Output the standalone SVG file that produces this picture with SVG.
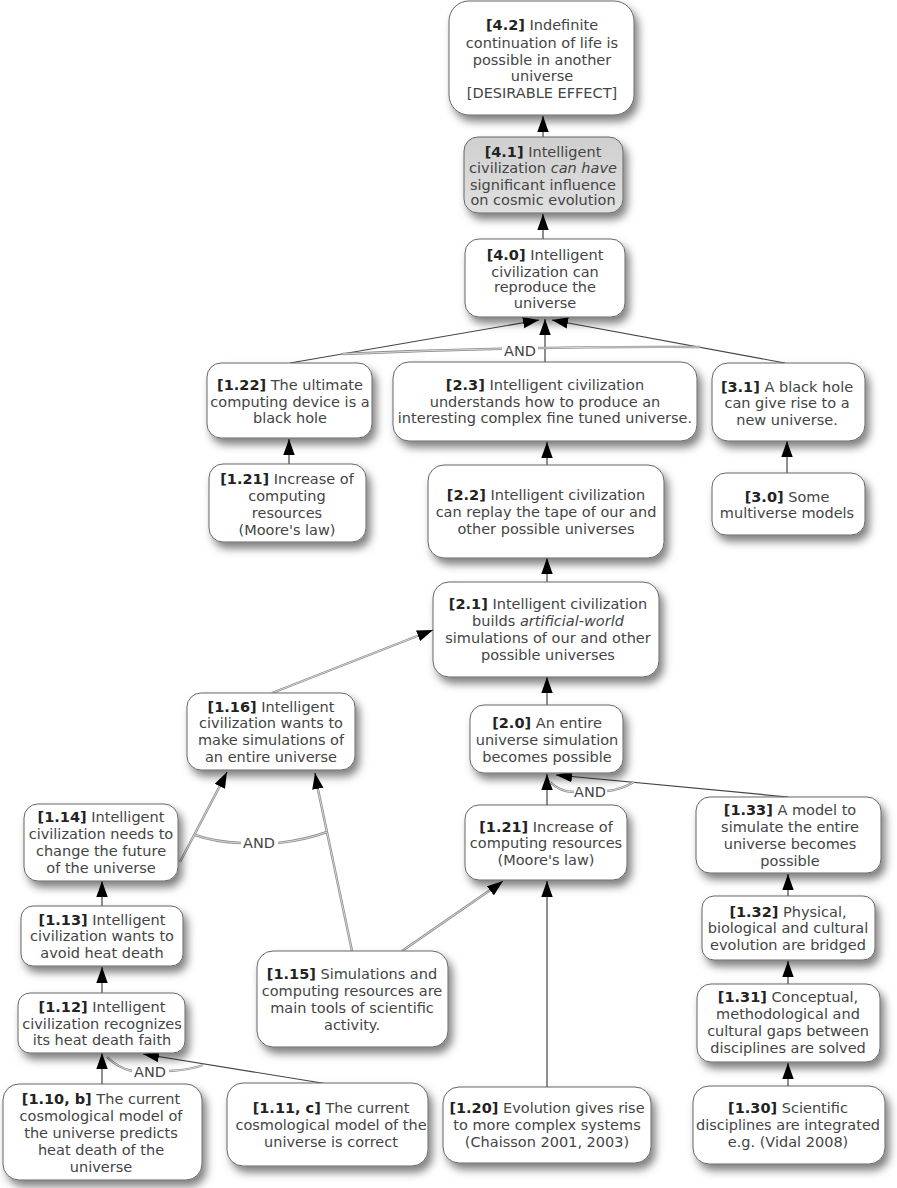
<svg xmlns="http://www.w3.org/2000/svg" width="897" height="1188" viewBox="0 0 897 1188">
<defs>
<filter id="sh" x="-20%" y="-20%" width="150%" height="170%">
<feDropShadow dx="4" dy="6" stdDeviation="4" flood-color="#000" flood-opacity="0.5"/>
</filter>
<linearGradient id="gr" x1="0" y1="0" x2="0" y2="1">
<stop offset="0" stop-color="#cfcfcf"/>
<stop offset="1" stop-color="#e0e0e0"/>
</linearGradient>
<marker id="ah" markerUnits="userSpaceOnUse" markerWidth="16" markerHeight="12" viewBox="0 0 14 10" refX="14" refY="5" orient="auto">
<path d="M0,0 L14,5 L0,10 z" fill="#000"/>
</marker>
<style>
.box{fill:#fff;stroke:#666;stroke-width:1;filter:url(#sh)}
.gray{fill:url(#gr)}
text{font-family:"DejaVu Sans","Verdana",sans-serif;font-size:14.5px;fill:#444;text-anchor:middle}
.b{font-weight:bold;fill:#222}
.i{font-style:italic}
.dk{fill:none;stroke:#444;stroke-width:1.2}
.lt{fill:none;stroke:#8a8a8a;stroke-width:2.4}
.lti{fill:none;stroke:#e8e8e8;stroke-width:0.8}
.and{fill:none;stroke:#8a8a8a;stroke-width:2.4}
.andi{fill:none;stroke:#eee;stroke-width:0.8}
.andt{fill:#444}
</style>
</defs>

<g id="connectors">
<line class="dk" x1="543" y1="137" x2="543" y2="116" marker-end="url(#ah)"/>
<line class="dk" x1="543" y1="239" x2="543" y2="214" marker-end="url(#ah)"/>
<line class="dk" x1="290" y1="363" x2="539" y2="320" stroke="#666" marker-end="url(#ah)"/>
<line class="dk" x1="545" y1="362" x2="545" y2="319" marker-end="url(#ah)"/>
<line class="dk" x1="785" y1="363" x2="552" y2="320" stroke="#666" marker-end="url(#ah)"/>
<path class="and" d="M343,354 Q520,346 700,347"/>
<path class="andi" d="M343,354 Q520,346 700,347"/>
<rect x="502" y="342" width="36" height="14" fill="#fff"/>
<text x="520" y="356" class="andt">AND</text>
<line class="dk" x1="289" y1="464" x2="289" y2="439" marker-end="url(#ah)"/>
<line class="dk" x1="547" y1="465" x2="547" y2="442" marker-end="url(#ah)"/>
<line class="dk" x1="787" y1="473" x2="787" y2="441" marker-end="url(#ah)"/>
<line class="dk" x1="547" y1="582" x2="547" y2="558" marker-end="url(#ah)"/>
<line class="lt" x1="272" y1="693" x2="425" y2="633"/>
<line class="lti" x1="272" y1="693" x2="425" y2="633"/>
<line x1="420" y1="635" x2="433" y2="630" stroke="#000" marker-end="url(#ah)"/>
<line class="dk" x1="547" y1="705" x2="547" y2="677" marker-end="url(#ah)"/>
<line class="dk" x1="547" y1="805" x2="547" y2="774" marker-end="url(#ah)"/>
<line class="dk" x1="788" y1="797" x2="556" y2="775" stroke="#666" marker-end="url(#ah)"/>
<path class="and" d="M550,782 Q560,792 574,792 M607,791 Q620,790 634,782"/>
<path class="andi" d="M550,782 Q560,792 574,792 M607,791 Q620,790 634,782"/>
<text x="590" y="797" class="andt">AND</text>
<line class="lt" x1="180" y1="862" x2="224" y2="778"/>
<line class="lti" x1="180" y1="862" x2="224" y2="778"/>
<line x1="222" y1="782" x2="227" y2="772" stroke="#000" marker-end="url(#ah)"/>
<line class="lt" x1="352" y1="951" x2="316" y2="780"/>
<line class="lti" x1="352" y1="951" x2="316" y2="780"/>
<line x1="317" y1="784" x2="315" y2="773" stroke="#000" marker-end="url(#ah)"/>
<path class="and" d="M195,835 Q215,842 241,843 M278,843 Q305,840 327,832"/>
<path class="andi" d="M195,835 Q215,842 241,843 M278,843 Q305,840 327,832"/>
<text x="259" y="848" class="andt">AND</text>
<line class="dk" x1="102" y1="906" x2="102" y2="881" marker-end="url(#ah)"/>
<line class="dk" x1="102" y1="993" x2="102" y2="967" marker-end="url(#ah)"/>
<line class="dk" x1="102" y1="1084" x2="102" y2="1053" marker-end="url(#ah)"/>
<line class="dk" x1="328" y1="1084" x2="143" y2="1054" stroke="#666" marker-end="url(#ah)"/>
<path class="and" d="M107,1057 Q118,1068 132,1071 M169,1071 Q190,1070 203,1065"/>
<path class="andi" d="M107,1057 Q118,1068 132,1071 M169,1071 Q190,1070 203,1065"/>
<text x="150" y="1077" class="andt">AND</text>
<line class="lt" x1="402" y1="951" x2="496" y2="886"/>
<line class="lti" x1="402" y1="951" x2="496" y2="886"/>
<line x1="494" y1="888" x2="503" y2="881" stroke="#000" marker-end="url(#ah)"/>
<line class="dk" x1="547" y1="1087" x2="547" y2="881" marker-end="url(#ah)"/>
<line class="dk" x1="788" y1="896" x2="788" y2="874" marker-end="url(#ah)"/>
<line class="dk" x1="788" y1="984" x2="788" y2="961" marker-end="url(#ah)"/>
<line class="dk" x1="788" y1="1086" x2="788" y2="1063" marker-end="url(#ah)"/>
</g>

<g id="n42"><rect class="box" x="449" y="1" width="185" height="114" rx="20"/>
<text x="542" y="30"><tspan class="b">[4.2]</tspan> Indefinite</text>
<text x="542" y="48">continuation of life is</text>
<text x="542" y="65">possible in another</text>
<text x="542" y="81">universe</text>
<text x="542" y="98">[DESIRABLE EFFECT]</text></g>

<g id="n41"><rect class="box gray" x="464" y="137" width="159" height="76" rx="14"/>
<text x="543" y="157"><tspan class="b">[4.1]</tspan> Intelligent</text>
<text x="543" y="173">civilization <tspan class="i">can have</tspan></text>
<text x="543" y="190">significant influence</text>
<text x="543" y="205">on cosmic evolution</text></g>

<g id="n40"><rect class="box" x="465" y="239" width="160" height="78" rx="14"/>
<text x="545" y="260"><tspan class="b">[4.0]</tspan> Intelligent</text>
<text x="545" y="277">civilization can</text>
<text x="545" y="292">reproduce the</text>
<text x="545" y="308">universe</text></g>

<g id="n122"><rect class="box" x="207" y="363" width="165" height="75" rx="14"/>
<text x="290" y="390"><tspan class="b">[1.22]</tspan> The ultimate</text>
<text x="290" y="407">computing device is a</text>
<text x="290" y="423">black hole</text></g>

<g id="n23"><rect class="box" x="393" y="362" width="304" height="79" rx="16"/>
<text x="545" y="390"><tspan class="b">[2.3]</tspan>  Intelligent civilization</text>
<text x="545" y="407">understands how to produce an</text>
<text x="545" y="423">interesting complex fine tuned universe.</text></g>

<g id="n31"><rect class="box" x="712" y="363" width="153" height="78" rx="16"/>
<text x="787" y="392"><tspan class="b">[3.1]</tspan> A black hole</text>
<text x="787" y="408">can give rise to a</text>
<text x="787" y="425">new universe.</text></g>

<g id="n121a"><rect class="box" x="209" y="464" width="157" height="78" rx="14"/>
<text x="287" y="484"><tspan class="b">[1.21]</tspan> Increase of</text>
<text x="287" y="501">computing</text>
<text x="287" y="518">resources</text>
<text x="287" y="535">(Moore's law)</text></g>

<g id="n22"><rect class="box" x="428" y="465" width="236" height="93" rx="16"/>
<text x="546" y="500"><tspan class="b">[2.2]</tspan>  Intelligent civilization</text>
<text x="546" y="517">can replay the tape of our and</text>
<text x="546" y="534">other possible universes</text></g>

<g id="n30"><rect class="box" x="712" y="473" width="153" height="62" rx="14"/>
<text x="787" y="502"><tspan class="b">[3.0]</tspan> Some</text>
<text x="787" y="518">multiverse models</text></g>

<g id="n21"><rect class="box" x="433" y="582" width="226" height="95" rx="16"/>
<text x="548" y="609"><tspan class="b">[2.1]</tspan> Intelligent civilization</text>
<text x="548" y="626">builds <tspan class="i">artificial-world</tspan></text>
<text x="548" y="643">simulations of our and other</text>
<text x="548" y="660">possible universes</text></g>

<g id="n116"><rect class="box" x="187" y="693" width="168" height="77" rx="14"/>
<text x="271" y="712"><tspan class="b">[1.16]</tspan> Intelligent</text>
<text x="271" y="728">civilization wants to</text>
<text x="271" y="745">make simulations of</text>
<text x="271" y="762">an entire universe</text></g>

<g id="n20"><rect class="box" x="470" y="705" width="153" height="68" rx="14"/>
<text x="547" y="728"><tspan class="b">[2.0]</tspan> An entire</text>
<text x="547" y="745">universe simulation</text>
<text x="547" y="762">becomes possible</text></g>

<g id="n114"><rect class="box" x="24" y="804" width="154" height="77" rx="14"/>
<text x="101" y="822"><tspan class="b">[1.14]</tspan> Intelligent</text>
<text x="101" y="839">civilization needs to</text>
<text x="101" y="856">change the future</text>
<text x="101" y="873">of the universe</text></g>

<g id="n121b"><rect class="box" x="465" y="805" width="162" height="75" rx="14"/>
<text x="546" y="832"><tspan class="b">[1.21]</tspan> Increase of</text>
<text x="546" y="848">computing resources</text>
<text x="546" y="865">(Moore's law)</text></g>

<g id="n133"><rect class="box" x="696" y="797" width="185" height="76" rx="14"/>
<text x="790" y="815"><tspan class="b">[1.33]</tspan> A model to</text>
<text x="790" y="832">simulate the entire</text>
<text x="790" y="849">universe becomes</text>
<text x="790" y="866">possible</text></g>

<g id="n113"><rect class="box" x="21" y="906" width="162" height="60" rx="12"/>
<text x="102" y="925"><tspan class="b">[1.13]</tspan> Intelligent</text>
<text x="102" y="941">civilization wants to</text>
<text x="102" y="958">avoid heat death</text></g>

<g id="n132"><rect class="box" x="702" y="896" width="173" height="64" rx="12"/>
<text x="788" y="917"><tspan class="b">[1.32]</tspan> Physical,</text>
<text x="788" y="933">biological and cultural</text>
<text x="788" y="950">evolution are bridged</text></g>

<g id="n115"><rect class="box" x="257" y="951" width="191" height="96" rx="16"/>
<text x="352" y="979"><tspan class="b">[1.15]</tspan> Simulations and</text>
<text x="352" y="996">computing resources are</text>
<text x="352" y="1013">main tools of scientific</text>
<text x="352" y="1030">activity.</text></g>

<g id="n131"><rect class="box" x="697" y="984" width="183" height="78" rx="14"/>
<text x="788" y="1002"><tspan class="b">[1.31]</tspan> Conceptual,</text>
<text x="788" y="1019">methodological and</text>
<text x="788" y="1036">cultural gaps between</text>
<text x="788" y="1053">disciplines are solved</text></g>

<g id="n112"><rect class="box" x="18" y="993" width="167" height="60" rx="12"/>
<text x="102" y="1012"><tspan class="b">[1.12]</tspan> Intelligent</text>
<text x="102" y="1029">civilization recognizes</text>
<text x="102" y="1045">its heat death faith</text></g>

<g id="n110"><rect class="box" x="3" y="1084" width="199" height="96" rx="16"/>
<text x="101" y="1104"><tspan class="b">[1.10, b]</tspan> The current</text>
<text x="101" y="1121">cosmological model of</text>
<text x="101" y="1138">the universe predicts</text>
<text x="101" y="1155">heat death of the</text>
<text x="101" y="1172">universe</text></g>

<g id="n111"><rect class="box" x="227" y="1083" width="201" height="83" rx="16"/>
<text x="331" y="1113"><tspan class="b">[1.11, c]</tspan> The current</text>
<text x="331" y="1130">cosmological model of the</text>
<text x="331" y="1147">universe is correct</text></g>

<g id="n120"><rect class="box" x="443" y="1087" width="208" height="76" rx="16"/>
<text x="547" y="1113"><tspan class="b">[1.20]</tspan> Evolution gives rise</text>
<text x="547" y="1130">to more complex systems</text>
<text x="547" y="1147">(Chaisson 2001, 2003)</text></g>

<g id="n130"><rect class="box" x="693" y="1086" width="192" height="78" rx="16"/>
<text x="788" y="1113"><tspan class="b">[1.30]</tspan> Scientific</text>
<text x="788" y="1130">disciplines are integrated</text>
<text x="788" y="1147">e.g. (Vidal 2008)</text></g>
</svg>
